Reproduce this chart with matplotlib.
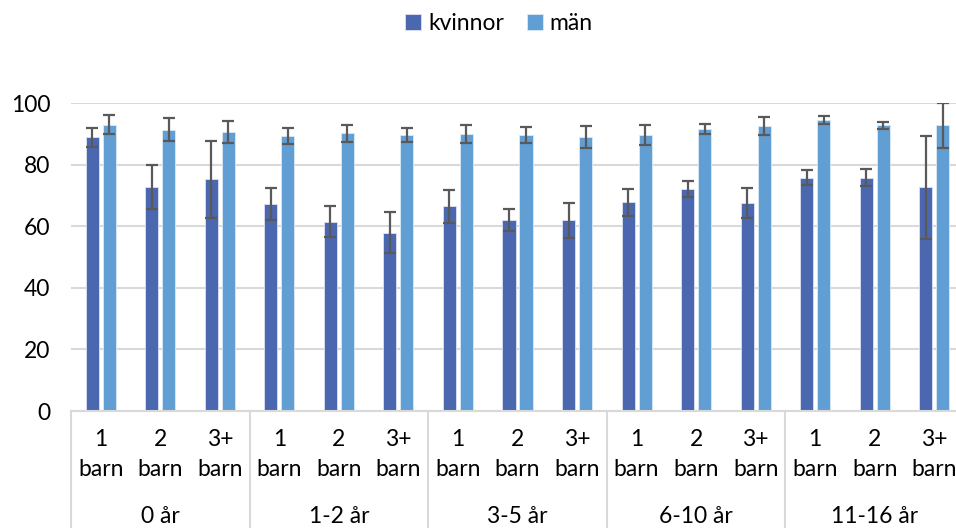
import numpy as np
import matplotlib
matplotlib.use("Agg")
import matplotlib.pyplot as plt
from matplotlib.transforms import blended_transform_factory

plt.rcParams['font.family'] = ['Lato', 'DejaVu Sans']

# data
grupper = ['0 år', '1-2 år', '3-5 år', '6-10 år', '11-16 år']
barn = ['1\nbarn', '2\nbarn', '3+\nbarn']

kvinnor = [88.8, 72.7, 75.3, 67.1, 61.5, 57.9, 66.5, 62.1, 61.9,
           67.7, 72.1, 67.6, 75.8, 75.8, 72.6]
kvinnor_fel = [3.0, 7.2, 12.5, 5.2, 5.0, 6.6, 5.4, 3.6, 5.6,
               4.5, 2.5, 4.8, 2.3, 2.8, 16.8]
man = [93.0, 91.3, 90.7, 89.4, 90.2, 89.6, 90.0, 89.6, 88.9,
       89.6, 91.6, 92.5, 94.6, 92.8, 92.7]
man_fel = [3.0, 3.7, 3.6, 2.6, 2.8, 2.4, 2.9, 2.5, 3.6,
           3.3, 1.7, 3.0, 1.3, 1.1, 7.4]

fig = plt.figure(figsize=(9.56, 5.28), dpi=100)
ax = fig.add_axes([71/956, 117/528, 893/956, 308/528])

x = np.arange(len(kvinnor))
w = 0.22
fs = 16.5
felstil = dict(ecolor='#595959', elinewidth=1.6, capsize=4.5, capthick=1.6)
ax.bar(x - 0.143, kvinnor, w, color='#4A67AF', edgecolor='#dbe3f3', linewidth=0.6,
       yerr=kvinnor_fel, error_kw=felstil, label='kvinnor', zorder=2)
ax.bar(x + 0.143, man, w, color='#609ED3', edgecolor='#dbe9f6', linewidth=0.6,
       yerr=man_fel, error_kw=felstil, label='män', zorder=2)

ax.set_xlim(-0.5, len(kvinnor) - 0.5)
ax.set_ylim(0, 100)
ax.set_yticks(range(0, 101, 20))
ax.tick_params(axis='y', length=0, pad=15, labelsize=fs)
ax.set_xticks([])
ax.grid(axis='y', color='#d9d9d9', linewidth=1.5, zorder=0)
ax.set_axisbelow(True)
for s in ['top', 'right', 'left']:
    ax.spines[s].set_visible(False)
ax.spines['bottom'].set_color('#d9d9d9')
ax.spines['bottom'].set_linewidth(1.5)

trans = blended_transform_factory(ax.transData, ax.transAxes)
for i in x:
    t1, t2 = barn[i % 3].split('\n')
    ax.text(i, -0.094, t1, transform=trans, ha='center', va='center', fontsize=fs)
    ax.text(i, -0.19, t2, transform=trans, ha='center', va='center', fontsize=fs)
for g, namn in enumerate(grupper):
    ax.text(g * 3 + 1, -0.343, namn, transform=trans, ha='center', va='center', fontsize=fs)
    ax.plot([g * 3 - 0.5, g * 3 - 0.5], [0, -0.4], transform=trans, color='#d9d9d9',
            linewidth=1.5, clip_on=False)

fig.legend(loc='upper center', bbox_to_anchor=(0.522, 1.015), ncol=2, frameon=False,
           fontsize=fs, handlelength=0.7, handleheight=0.7, handletextpad=0.3,
           columnspacing=1.0)

fig.savefig('out.png', dpi=100)
